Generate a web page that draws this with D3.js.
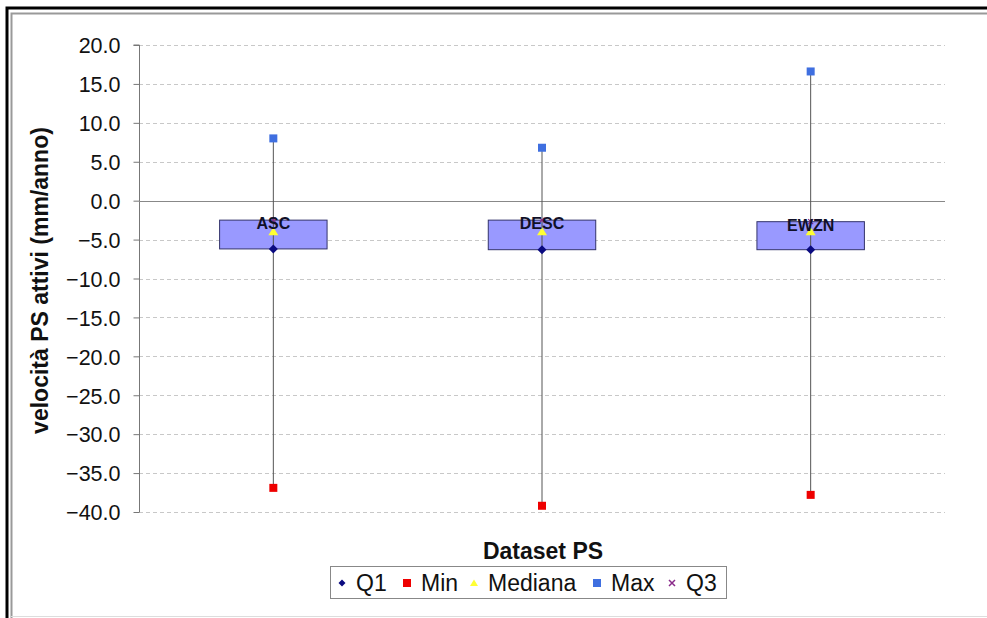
<!DOCTYPE html>
<html>
<head>
<meta charset="utf-8">
<script src="https://cdn.jsdelivr.net/npm/d3@7/dist/d3.min.js"></script>
<style>
  html, body { margin: 0; padding: 0; background: #ffffff; }
  svg { display: block; font-family: "Liberation Sans", Arial, sans-serif; }
</style>
</head>
<body>
<svg id="chart" width="987" height="618"></svg>
<script>
// Dataset categories and summary statistics (mm/anno)
const categories = ["ASC", "DESC", "EWZN"];
const q1Values     = [-6.2, -6.3, -6.3];
const minValues    = [-36.9, -39.2, -37.8];
const medianValues = [-4.0, -4.0, -4.0];
const maxValues    = [8.0, 6.8, 16.6];
const q3Values     = [-2.5, -2.5, -2.7];
const yTicks = [20, 15, 10, 5, 0, -5, -10, -15, -20, -25, -30, -35, -40];
const legendItems = ["Q1", "Min", "Mediana", "Max", "Q3"];

const rows = categories.map((c, i) => ({
  cat: c, q1: q1Values[i], min: minValues[i], med: medianValues[i],
  max: maxValues[i], q3: q3Values[i]
}));

const svg = d3.select("#chart");

// Outer frame
svg.append("rect").attr("x", 0).attr("y", 0).attr("width", 987).attr("height", 618).attr("fill", "#fff");
svg.append("path").attr("d", "M7,618 V8 H987").attr("fill", "none").attr("stroke", "#000").attr("stroke-width", 3);
svg.append("path").attr("d", "M11.5,618 V13.5 H987").attr("fill", "none").attr("stroke", "#999").attr("stroke-width", 2);
svg.append("line").attr("x1", 11).attr("x2", 987).attr("y1", 616.5).attr("y2", 616.5).attr("stroke", "#ddd").attr("stroke-width", 1);

const plotLeft = 139, plotRight = 945, plotTop = 45, plotBottom = 512;

const y = d3.scaleLinear().domain([-40, 20]).range([plotBottom, plotTop]);
const x = d3.scaleBand().domain(categories).range([plotLeft, plotRight]);

// Gridlines
svg.append("g").selectAll("line").data(yTicks.filter(t => t !== 0)).join("line")
  .attr("x1", plotLeft).attr("x2", plotRight)
  .attr("y1", d => Math.round(y(d)) + 0.5).attr("y2", d => Math.round(y(d)) + 0.5)
  .attr("stroke", "#c8c8c8").attr("stroke-width", 1).attr("stroke-dasharray", "4,3");

// Y axis
const yAxis = d3.axisLeft(y).tickValues(yTicks).tickFormat(d3.format(".1f")).tickSize(6).tickPadding(13);
const yg = svg.append("g").attr("transform", `translate(${plotLeft + 0.5},0)`).call(yAxis);
yg.select(".domain").attr("stroke", "#777").attr("d", `M-6,${y(20)}H0V${y(-40)}`);
yg.selectAll(".tick line").attr("stroke", "#777");
yg.selectAll(".tick text").attr("font-size", 21.5).attr("fill", "#111")
  .attr("font-family", "'Liberation Sans', Arial, sans-serif").attr("dy", "0.36em");

// Category axis at zero
svg.append("line").attr("x1", plotLeft).attr("x2", plotRight)
  .attr("y1", Math.round(y(0)) + 0.5).attr("y2", Math.round(y(0)) + 0.5)
  .attr("stroke", "#888").attr("stroke-width", 1.2);

const cx = d => x(d.cat) + x.bandwidth() / 2;
const boxW = x.bandwidth() * 0.4;

// Whiskers: min to max
svg.append("g").selectAll("line").data(rows).join("line")
  .attr("x1", cx).attr("x2", cx)
  .attr("y1", d => y(d.max)).attr("y2", d => y(d.min))
  .attr("stroke", "#555").attr("stroke-width", 1);

// Boxes: Q3 to Q1
svg.append("g").selectAll("rect").data(rows).join("rect")
  .attr("x", d => cx(d) - boxW / 2).attr("width", boxW)
  .attr("y", d => y(d.q3)).attr("height", d => y(d.q1) - y(d.q3))
  .attr("fill", "#9999ff").attr("stroke", "#33336b").attr("stroke-width", 1);

// Whisker visible through the box
svg.append("g").selectAll("line").data(rows).join("line")
  .attr("x1", cx).attr("x2", cx)
  .attr("y1", d => y(d.q3)).attr("y2", d => y(d.q1))
  .attr("stroke", "#555").attr("stroke-width", 1);

// Markers
const sq = 8;
svg.append("g").selectAll("rect").data(rows).join("rect")
  .attr("x", d => cx(d) - sq / 2).attr("y", d => y(d.min) - sq / 2)
  .attr("width", sq).attr("height", sq).attr("fill", "#ee0000");
svg.append("g").selectAll("rect").data(rows).join("rect")
  .attr("x", d => cx(d) - sq / 2).attr("y", d => y(d.max) - sq / 2)
  .attr("width", sq).attr("height", sq).attr("fill", "#3f6fe0");
svg.append("g").selectAll("path").data(rows).join("path")
  .attr("transform", d => `translate(${cx(d)},${y(d.q1)})`)
  .attr("d", "M0,-4.5L4.5,0L0,4.5L-4.5,0Z").attr("fill", "#0a0a80");
svg.append("g").selectAll("path").data(rows).join("path")
  .attr("transform", d => `translate(${cx(d)},${y(d.med)})`)
  .attr("d", "M0,-4.5L5,3.5L-5,3.5Z").attr("fill", "#ffff33");
svg.append("g").selectAll("path").data(rows).join("path")
  .attr("transform", d => `translate(${cx(d)},${y(d.q3)})`)
  .attr("d", "M-2.5,-2.5L2.5,2.5M2.5,-2.5L-2.5,2.5").attr("stroke", "#8a2a8a").attr("stroke-width", 1.2);

// Category labels
svg.append("g").selectAll("text").data(rows).join("text")
  .attr("x", cx).attr("y", d => y(d.q3) + 9)
  .attr("text-anchor", "middle").attr("font-size", 16).attr("font-weight", "bold")
  .attr("fill", "#101028").text(d => d.cat);

// Axis titles
svg.append("text").attr("transform", `translate(48,${(plotTop + plotBottom) / 2 + 2}) rotate(-90)`)
  .attr("text-anchor", "middle").attr("font-size", 23).attr("font-weight", "bold").attr("fill", "#111")
  .text("velocità PS attivi (mm/anno)");
svg.append("text").attr("x", (plotLeft + plotRight) / 2 + 1).attr("y", 559)
  .attr("text-anchor", "middle").attr("font-size", 23).attr("font-weight", "bold").attr("fill", "#111")
  .text("Dataset PS");

// Legend
const lg = svg.append("g");
lg.append("rect").attr("x", 330.5).attr("y", 566.5).attr("width", 396).attr("height", 32)
  .attr("fill", "#fff").attr("stroke", "#888").attr("stroke-width", 1);
const legX = [342, 407, 474, 597, 672];
const markers = [
  g => g.append("path").attr("d", "M0,-3.5L3.5,0L0,3.5L-3.5,0Z").attr("fill", "#0a0a80"),
  g => g.append("rect").attr("x", -4).attr("y", -4).attr("width", 8).attr("height", 8).attr("fill", "#ee0000"),
  g => g.append("path").attr("d", "M0,-3.5L4,3L-4,3Z").attr("fill", "#ffff33"),
  g => g.append("rect").attr("x", -4).attr("y", -4).attr("width", 8).attr("height", 8).attr("fill", "#3f6fe0"),
  g => g.append("path").attr("d", "M-3,-3L3,3M3,-3L-3,3").attr("stroke", "#8a2a8a").attr("stroke-width", 1.5)
];
legendItems.forEach((name, i) => {
  const g = lg.append("g").attr("transform", `translate(${legX[i]},583)`);
  markers[i](g);
  lg.append("text").attr("x", legX[i] + 14).attr("y", 591)
    .attr("font-size", 23).attr("fill", "#111").text(name);
});
</script>
</body>
</html>
